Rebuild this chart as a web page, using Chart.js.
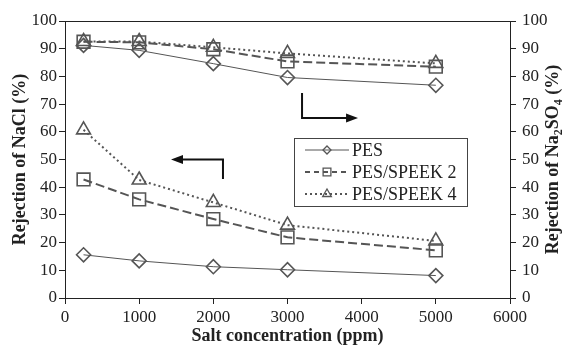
<!DOCTYPE html>
<html>
<head>
<meta charset="utf-8">
<script src="https://cdn.jsdelivr.net/npm/chart.js@4.4.0/dist/chart.umd.min.js"></script>
<style>
  html, body { margin: 0; padding: 0; background: #ffffff; }
  #wrap { width: 563px; height: 354px; }
</style>
</head>
<body>
<div id="wrap"><canvas id="c" width="563" height="354"></canvas></div>
<script>
// ---- data ----
const concentrations = [250, 1000, 2000, 3000, 5000];
const seriesNames = ['PES', 'PES/SPEEK 2', 'PES/SPEEK 4'];
// NaCl rejection (left axis)
const naclPES   = [15.6, 13.4, 11.3, 10.2, 8.1];
const naclS2    = [42.8, 35.6, 28.5, 21.9, 17.2];
const naclS4    = [60.7, 42.6, 34.5, 26.3, 20.6];
// Na2SO4 rejection (right axis)
const na2so4PES = [91.2, 89.4, 84.6, 79.6, 76.8];
const na2so4S2  = [92.5, 92.3, 89.8, 85.4, 83.5];
const na2so4S4  = [92.6, 92.6, 90.5, 88.3, 84.7];
const xTicks = [0, 1000, 2000, 3000, 4000, 5000, 6000];
const yTicks = [0, 10, 20, 30, 40, 50, 60, 70, 80, 90, 100];

const toPts = arr => arr.map((v, i) => ({ x: concentrations[i], y: v }));

const SERIF = "'Liberation Serif', 'Times New Roman', serif";
const LINE = '#555555';
const AX = '#222222';

const styles = [
  { pointStyle: 'rectRot', pointRadius: 7, borderWidth: 1, borderDash: [] },
  { pointStyle: 'rect', pointRadius: 9, borderWidth: 2, borderDash: [9, 4] },
  { pointStyle: 'triangle', pointRadius: 8, borderWidth: 2, borderDash: [2, 3] }
];

function mkDs(label, arr, idx, axis) {
  const s = styles[idx];
  return {
    label: label,
    data: toPts(arr),
    yAxisID: axis,
    borderColor: LINE,
    borderWidth: s.borderWidth,
    borderDash: s.borderDash,
    pointStyle: s.pointStyle,
    pointRadius: s.pointRadius,
    pointBorderWidth: 1.6,
    pointBorderColor: LINE,
    pointBackgroundColor: 'rgba(0,0,0,0)',
    fill: false,
    tension: 0
  };
}

function drawMarker(ctx, style, x, y, r) {
  ctx.beginPath();
  if (style === 'rectRot') {
    ctx.moveTo(x, y - r); ctx.lineTo(x + r, y); ctx.lineTo(x, y + r); ctx.lineTo(x - r, y); ctx.closePath();
  } else if (style === 'rect') {
    const s = r * Math.SQRT1_2;
    ctx.rect(x - s, y - s, 2 * s, 2 * s);
  } else {
    ctx.moveTo(x, y - r);
    ctx.lineTo(x + r * 0.866, y + r / 2);
    ctx.lineTo(x - r * 0.866, y + r / 2);
    ctx.closePath();
  }
  ctx.stroke();
}

const extras = {
  id: 'extras',
  afterDraw(chart) {
    const ctx = chart.ctx;
    const a = chart.chartArea;
    const xs = chart.scales.x, ys = chart.scales.y;
    ctx.save();
    // top frame line
    ctx.strokeStyle = AX; ctx.lineWidth = 1;
    ctx.beginPath();
    ctx.moveTo(a.left, Math.round(a.top) + 0.5);
    ctx.lineTo(a.right, Math.round(a.top) + 0.5);
    ctx.stroke();

    // arrows
    ctx.strokeStyle = '#111'; ctx.fillStyle = '#111'; ctx.lineWidth = 2;
    // left arrow (NaCl -> left axis)
    let vx = xs.getPixelForValue(2130), y1 = ys.getPixelForValue(50), y2 = ys.getPixelForValue(43);
    let tip = xs.getPixelForValue(1429);
    ctx.beginPath(); ctx.moveTo(vx, y2); ctx.lineTo(vx, y1); ctx.lineTo(tip + 8, y1); ctx.stroke();
    ctx.beginPath(); ctx.moveTo(tip, y1); ctx.lineTo(tip + 12, y1 - 4.5); ctx.lineTo(tip + 12, y1 + 4.5); ctx.closePath(); ctx.fill();
    // right arrow (Na2SO4 -> right axis)
    vx = xs.getPixelForValue(3196); y1 = ys.getPixelForValue(74); y2 = ys.getPixelForValue(65);
    tip = xs.getPixelForValue(3951);
    ctx.beginPath(); ctx.moveTo(vx, y1); ctx.lineTo(vx, y2); ctx.lineTo(tip - 8, y2); ctx.stroke();
    ctx.beginPath(); ctx.moveTo(tip, y2); ctx.lineTo(tip - 12, y2 - 4.5); ctx.lineTo(tip - 12, y2 + 4.5); ctx.closePath(); ctx.fill();

    // legend
    ctx.lineWidth = 1; ctx.strokeStyle = '#444'; ctx.setLineDash([]);
    ctx.strokeRect(294.5, 138.5, 173, 68);
    const rows = [150, 172, 194];
    const legR = [4, 5.5, 5];
    ctx.font = '18px ' + SERIF;
    ctx.textBaseline = 'middle'; ctx.textAlign = 'left';
    for (let i = 0; i < 3; i++) {
      const y = rows[i];
      ctx.strokeStyle = LINE;
      ctx.lineWidth = i === 0 ? 1 : 2;
      ctx.setLineDash(i === 0 ? [] : (i === 1 ? [5, 4] : [2, 3]));
      ctx.beginPath(); ctx.moveTo(305, y); ctx.lineTo(349, y); ctx.stroke();
      ctx.setLineDash([]);
      ctx.lineWidth = 1.3;
      drawMarker(ctx, styles[i].pointStyle, 327, y, legR[i]);
      ctx.fillStyle = AX;
      ctx.fillText(seriesNames[i], 352, y + 1);
    }

    // right axis title with subscripts, reading bottom-to-top
    const big = 'bold 18px ' + SERIF, small = 'bold 12px ' + SERIF;
    const parts = [['Rejection of Na', big, 0], ['2', small, 4], ['SO', big, 0], ['4', small, 4], [' (%)', big, 0]];
    let total = 0;
    parts.forEach(p => { ctx.font = p[1]; total += ctx.measureText(p[0]).width; });
    ctx.translate(558, (a.top + a.bottom) / 2);
    ctx.rotate(-Math.PI / 2);
    ctx.fillStyle = AX; ctx.textBaseline = 'alphabetic'; ctx.textAlign = 'left';
    let px = -total / 2;
    parts.forEach(p => { ctx.font = p[1]; ctx.fillText(p[0], px, p[2]); px += ctx.measureText(p[0]).width; });
    ctx.restore();
  }
};

const tickFont = { family: SERIF, size: 17 };
const gridCfg = { display: true, drawOnChartArea: false, drawTicks: true, tickLength: 6, color: AX, lineWidth: 1 };
const borderCfg = { display: true, color: AX, width: 1 };
const plain = v => String(v);

new Chart(document.getElementById('c'), {
  type: 'line',
  data: {
    datasets: [
      mkDs('PES NaCl', naclPES, 0, 'y'),
      mkDs('PES/SPEEK 2 NaCl', naclS2, 1, 'y'),
      mkDs('PES/SPEEK 4 NaCl', naclS4, 2, 'y'),
      mkDs('PES Na2SO4', na2so4PES, 0, 'y2'),
      mkDs('PES/SPEEK 2 Na2SO4', na2so4S2, 1, 'y2'),
      mkDs('PES/SPEEK 4 Na2SO4', na2so4S4, 2, 'y2')
    ]
  },
  options: {
    responsive: false,
    animation: false,
    devicePixelRatio: 1,
    layout: { padding: { top: 21, left: 0, right: 0, bottom: 0 } },
    plugins: { legend: { display: false }, tooltip: { enabled: false } },
    scales: {
      x: {
        type: 'linear', min: 0, max: 6000,
        afterBuildTicks: s => { s.ticks = xTicks.map(v => ({ value: v })); },
        afterFit: s => { s.height = 56; },
        ticks: { font: tickFont, color: AX, padding: 3, maxRotation: 0, autoSkip: false, callback: plain },
        grid: gridCfg, border: borderCfg,
        title: { display: true, text: 'Salt concentration (ppm)', color: AX,
                 font: { family: SERIF, size: 18, weight: 'bold' }, padding: { top: 0, bottom: 7 } }
      },
      y: {
        position: 'left', min: 0, max: 100,
        afterBuildTicks: s => { s.ticks = yTicks.map(v => ({ value: v })); },
        afterFit: s => { s.width = 65; },
        ticks: { font: tickFont, color: AX, padding: 2, callback: plain },
        grid: gridCfg, border: borderCfg,
        title: { display: true, text: 'Rejection of NaCl (%)', color: AX,
                 font: { family: SERIF, size: 18, weight: 'bold' }, padding: { top: 10, bottom: 0 } }
      },
      y2: {
        position: 'right', min: 0, max: 100,
        afterBuildTicks: s => { s.ticks = yTicks.map(v => ({ value: v })); },
        afterFit: s => { s.width = 53; },
        ticks: { font: tickFont, color: AX, padding: 6, callback: plain },
        grid: gridCfg, border: borderCfg,
        title: { display: false }
      }
    }
  },
  plugins: [extras]
});
</script>
</body>
</html>
